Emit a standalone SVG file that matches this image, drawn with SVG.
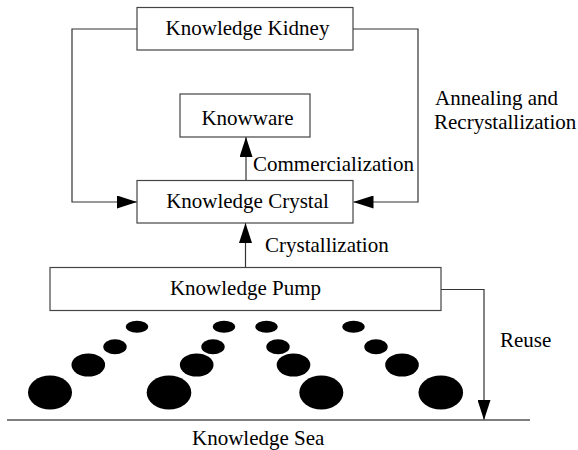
<svg xmlns="http://www.w3.org/2000/svg" width="578" height="450" viewBox="0 0 578 450">
<style>
.box{fill:#fff;stroke:#444;stroke-width:1.2}
.t{font-family:"Liberation Serif","Times New Roman","DejaVu Serif",serif;font-size:21px;fill:#000}
.c{text-anchor:middle}
.ln{fill:none;stroke:#333;stroke-width:1.2}
.dot{fill:#000}
</style>
<defs>
<marker id="ah" markerUnits="userSpaceOnUse" markerWidth="20" markerHeight="13" refX="20" refY="6.5" orient="auto">
<path d="M0,0 L20,6.5 L0,13 z" fill="#000"/>
</marker>
</defs>
<rect width="578" height="450" fill="#fff"/>
<g id="connectors">
<polyline class="ln" points="137,29 72,29 72,202 137,202" marker-end="url(#ah)"/>
<polyline class="ln" points="353,29 418,29 418,202 353.5,202" marker-end="url(#ah)"/>
<line class="ln" x1="246" y1="180.5" x2="246" y2="137" marker-end="url(#ah)"/>
<line class="ln" x1="245.5" y1="267.5" x2="245.5" y2="223" marker-end="url(#ah)"/>
<polyline class="ln" points="441,289.5 484,289.5 484,420" marker-end="url(#ah)"/>
</g>
<g id="kidney">
<rect class="box" x="137" y="7.5" width="216" height="42.5"/>
<text class="t c" x="247.5" y="35">Knowledge Kidney</text>
</g>
<g id="knowware">
<rect class="box" x="180" y="94" width="130" height="43"/>
<text class="t c" x="247.5" y="125">Knowware</text>
</g>
<g id="crystal">
<rect class="box" x="137" y="180.5" width="216" height="42.5"/>
<text class="t c" x="247.5" y="208">Knowledge Crystal</text>
</g>
<g id="pump">
<rect class="box" x="50" y="267.5" width="391" height="43"/>
<text class="t c" x="245.5" y="295">Knowledge Pump</text>
</g>
<g id="sea">
<line x1="7" y1="420" x2="530" y2="420" stroke="#555" stroke-width="1.5"/>
<text class="t" x="192" y="444.5">Knowledge Sea</text>
</g>
<g id="labels">
<text class="t" x="253" y="171">Commercialization</text>
<text class="t" x="265" y="252">Crystallization</text>
<text class="t" x="435" y="105">Annealing and</text>
<text class="t" x="434" y="129">Recrystallization</text>
<text class="t" x="500" y="347">Reuse</text>
</g>
<g id="droplets">
<ellipse class="dot" cx="137" cy="326.7" rx="11.3" ry="6"/>
<ellipse class="dot" cx="224" cy="326.7" rx="11.3" ry="6"/>
<ellipse class="dot" cx="266.5" cy="326.7" rx="11.3" ry="6"/>
<ellipse class="dot" cx="353.5" cy="326.7" rx="11.3" ry="6"/>
<ellipse class="dot" cx="115" cy="346.7" rx="11.7" ry="7.5"/>
<ellipse class="dot" cx="213" cy="346.7" rx="11.7" ry="7.5"/>
<ellipse class="dot" cx="278" cy="346.7" rx="11.7" ry="7.5"/>
<ellipse class="dot" cx="376" cy="346.7" rx="11.7" ry="7.5"/>
<ellipse class="dot" cx="88.3" cy="365" rx="16.8" ry="11.5"/>
<ellipse class="dot" cx="196.7" cy="365" rx="16.8" ry="11.5"/>
<ellipse class="dot" cx="293.5" cy="365" rx="16.8" ry="11.5"/>
<ellipse class="dot" cx="402" cy="365" rx="16.8" ry="11.5"/>
<ellipse class="dot" cx="50" cy="392.5" rx="22" ry="17"/>
<ellipse class="dot" cx="169" cy="392.5" rx="22.3" ry="17"/>
<ellipse class="dot" cx="321.3" cy="392.5" rx="22" ry="17"/>
<ellipse class="dot" cx="440.8" cy="392.5" rx="22.3" ry="17"/>
</g>
</svg>
